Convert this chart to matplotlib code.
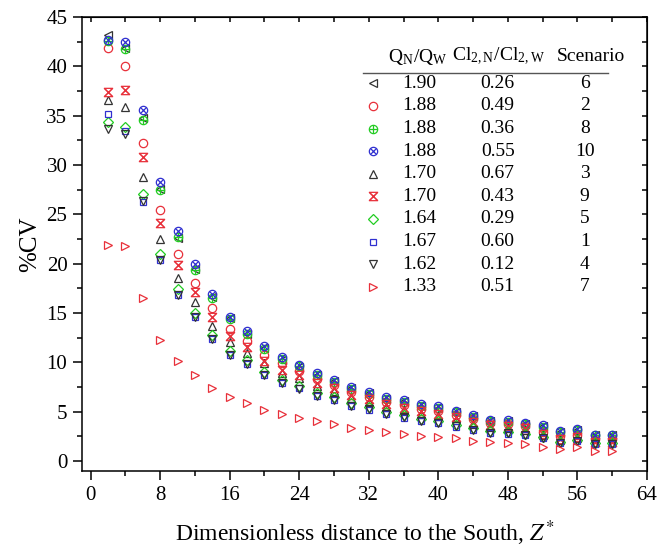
import matplotlib
matplotlib.use("Agg")
import matplotlib.pyplot as plt
from matplotlib.path import Path
from matplotlib.ticker import MultipleLocator

plt.rcParams['font.family'] = ['Liberation Serif', 'DejaVu Serif']
plt.rcParams['mathtext.fontset'] = 'stix'

# distance Z* (same for every scenario)
z = [2, 4, 6, 8, 10, 12, 14, 16, 18, 20, 22, 24, 26, 28, 30,
     32, 34, 36, 38, 40, 42, 44, 46, 48, 50, 52, 54, 56, 58, 60]

# %CV per scenario
cv_s6 = [43.2, 41.9, 34.8, 27.6, 22.6, 19.5, 16.6, 14.5, 12.9, 11.5, 10.3, 9.5, 8.7, 8.1, 7.4,
         6.9, 6.3, 6.1, 5.6, 5.4, 5.0, 4.6, 4.1, 4.1, 3.8, 3.6, 3.0, 3.2, 2.6, 2.6]
cv_s2 = [41.9, 40.0, 32.2, 25.4, 21.0, 18.1, 15.5, 13.4, 12.2, 10.8, 9.9, 9.1, 8.3, 7.7, 7.0,
         6.5, 6.0, 5.7, 5.3, 5.1, 4.7, 4.3, 3.9, 3.8, 3.6, 3.0, 2.5, 2.7, 2.2, 2.2]
cv_s8 = [42.6, 41.8, 34.6, 27.5, 22.7, 19.4, 16.5, 14.4, 12.9, 11.4, 10.4, 9.6, 8.7, 8.0, 7.3,
         6.8, 6.3, 6.0, 5.6, 5.4, 5.0, 4.5, 4.1, 4.0, 3.8, 3.5, 3.0, 3.2, 2.6, 2.6]
cv_s10 = [42.7, 42.5, 35.6, 28.3, 23.3, 20.0, 16.9, 14.6, 13.2, 11.7, 10.6, 9.7, 8.9, 8.2, 7.5,
          7.0, 6.45, 6.2, 5.75, 5.55, 5.1, 4.65, 4.2, 4.15, 3.9, 3.65, 3.1, 3.3, 2.7, 2.7]
cv_s3 = [36.6, 35.9, 28.8, 22.5, 18.6, 16.1, 13.7, 12.1, 11.0, 9.9, 8.9, 8.4, 7.6, 7.1, 6.4,
         6.0, 5.5, 5.2, 4.8, 4.6, 4.2, 3.8, 3.45, 3.35, 3.2, 2.7, 2.15, 2.35, 1.9, 1.9]
cv_s9 = [37.4, 37.6, 30.8, 24.1, 19.9, 17.1, 14.6, 12.7, 11.6, 10.1, 9.2, 8.7, 7.9, 7.4, 6.7,
         6.25, 5.75, 5.4, 5.05, 4.8, 4.45, 4.0, 3.65, 3.55, 3.4, 2.8, 2.2, 2.45, 1.95, 1.95]
cv_s5 = [34.4, 33.9, 27.1, 21.0, 17.4, 15.0, 12.8, 11.2, 10.2, 9.0, 8.2, 7.6, 6.9, 6.45, 5.85,
         5.5, 5.0, 4.65, 4.3, 4.1, 3.7, 3.4, 3.1, 3.0, 2.8, 2.45, 1.95, 2.1, 1.8, 1.8]
cv_s1 = [35.2, 33.5, 26.3, 20.4, 16.8, 14.6, 12.4, 10.8, 9.8, 8.7, 7.9, 7.4, 6.6, 6.2, 5.6,
         5.2, 4.8, 4.4, 4.05, 3.85, 3.5, 3.2, 2.9, 2.8, 2.6, 2.3, 1.8, 2.0, 1.7, 1.7]
cv_s4 = [33.7, 33.2, 26.4, 20.4, 16.8, 14.6, 12.4, 10.8, 9.8, 8.7, 7.9, 7.3, 6.6, 6.2, 5.6,
         5.25, 4.8, 4.45, 4.1, 3.9, 3.55, 3.2, 2.9, 2.85, 2.65, 2.3, 1.85, 2.0, 1.7, 1.7]
cv_s7 = [21.9, 21.8, 16.5, 12.3, 10.1, 8.7, 7.4, 6.5, 5.9, 5.2, 4.8, 4.4, 4.05, 3.75, 3.4,
         3.2, 3.0, 2.8, 2.55, 2.45, 2.3, 2.05, 1.9, 1.8, 1.7, 1.45, 1.2, 1.4, 1.05, 1.05]

# table legend columns
q_ratio = ["1.90", "1.88", "1.88", "1.88", "1.70", "1.70", "1.64", "1.67", "1.62", "1.33"]
cl_ratio = ["0.26", "0.49", "0.36", "0.55", "0.67", "0.43", "0.29", "0.60", "0.12", "0.51"]
scenario = ["6", "2", "8", "10", "3", "9", "5", "1", "4", "7"]

black = '#333333'
red = '#e8303a'
green = '#22cc22'
blue = '#3030d0'

hourglass = Path([(-1, 1), (1, 1), (-1, -1), (1, -1), (-1, 1)],
                 [Path.MOVETO, Path.LINETO, Path.LINETO, Path.LINETO, Path.CLOSEPOLY])

# one entry per row: data, list of (marker, colour, size)
series = [
    (cv_s6, [('<', black, 6)]),
    (cv_s2, [('o', red, 6)]),
    (cv_s8, [('o', green, 6), ('+', green, 6)]),
    (cv_s10, [('o', blue, 6), ('x', blue, 4.5)]),
    (cv_s3, [('^', black, 6)]),
    (cv_s9, [(hourglass, red, 6), ('x', red, 6)]),
    (cv_s5, [('D', green, 5)]),
    (cv_s1, [('s', blue, 5)]),
    (cv_s4, [('v', black, 6)]),
    (cv_s7, [('>', red, 6)]),
]

fig = plt.figure(figsize=(6.58, 5.5), dpi=100)
ax = fig.add_axes([0.1246, 0.1436, 0.8584, 0.8254])

for vals, marks in series:
    for m, c, s in marks:
        ax.plot(z, vals, linestyle='none', marker=m, markersize=s,
                markerfacecolor='none', markeredgecolor=c, markeredgewidth=0.9)

ax.set_xlim(-1, 64)
ax.set_ylim(-1, 45)
ax.xaxis.set_major_locator(MultipleLocator(8))
ax.xaxis.set_minor_locator(MultipleLocator(4))
ax.yaxis.set_major_locator(MultipleLocator(5))
ax.yaxis.set_minor_locator(MultipleLocator(2.5))
ax.tick_params(which='both', direction='out', width=1.1, labelsize=15, pad=4)
ax.tick_params(which='major', length=6.5)
ax.tick_params(which='minor', length=3.5)
for sp in ax.spines.values():
    sp.set_linewidth(1.1)

top = ax.secondary_xaxis('top')
top.xaxis.set_major_locator(MultipleLocator(4))
top.tick_params(direction='in', length=3.5, width=1.1, labeltop=False)
right = ax.secondary_yaxis('right')
right.yaxis.set_major_locator(MultipleLocator(2.5))
right.tick_params(direction='in', length=3.5, width=1.1, labelright=False)

ax.set_xlabel('Dimensionless distance to the South, $Z^{*}$', fontsize=17, labelpad=10)
ax.set_ylabel('%CV', fontsize=18, labelpad=4)

# table-style legend
tr = ax.transAxes
hy = 0.9126
ax.text(0.595, hy, r'Q$_\mathregular{N}$/Q$_\mathregular{W}$', transform=tr,
        ha='center', va='center', fontsize=14)
ax.text(0.738, hy, r'Cl$_\mathregular{2,N}$/Cl$_\mathregular{2,W}$', transform=tr,
        ha='center', va='center', fontsize=14)
ax.text(0.901, hy, 'Scenario', transform=tr, ha='center', va='center', fontsize=14)
ax.plot([0.497, 0.931], [0.8773, 0.8773], color='#555555', lw=1.0, transform=tr)

for i, (vals, marks) in enumerate(series):
    ry = 0.854 - 0.0498 * i
    for m, c, s in marks:
        ax.plot([0.515], [ry], transform=tr, linestyle='none', marker=m,
                markersize=s, markerfacecolor='none', markeredgecolor=c,
                markeredgewidth=0.9)
    ax.text(0.598, ry, q_ratio[i], transform=tr, ha='center', va='center', fontsize=14)
    ax.text(0.736, ry, cl_ratio[i], transform=tr, ha='center', va='center', fontsize=14)
    ax.text(0.890, ry, scenario[i], transform=tr, ha='center', va='center', fontsize=14)

fig.savefig('out.png', dpi=100)
